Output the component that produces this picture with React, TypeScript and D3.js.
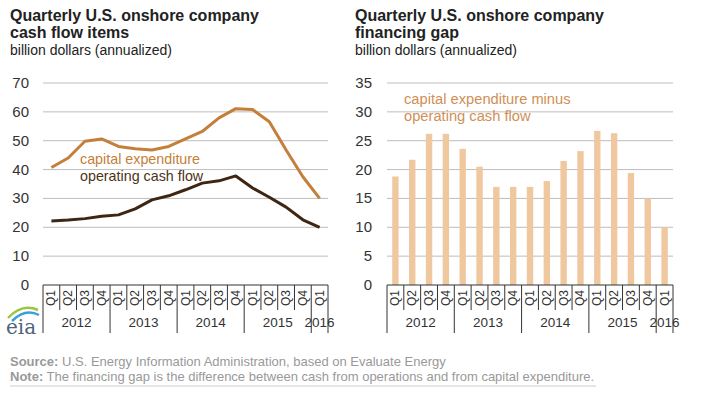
import React, { useEffect, useRef } from "react";
import * as d3 from "d3";

const quarters = ["Q1", "Q2", "Q3", "Q4", "Q1", "Q2", "Q3", "Q4", "Q1", "Q2", "Q3", "Q4", "Q1", "Q2", "Q3", "Q4", "Q1"];
const years = ["2012", "2013", "2014", "2015", "2016"];
const capex = [40.7, 44, 49.8, 50.6, 48, 47.2, 46.8, 48, 50.6, 53.2, 57.9, 61.1, 60.8, 56.6, 46.8, 37.5, 30];
const opCashFlow = [22.2, 22.5, 23, 23.8, 24.3, 26.4, 29.5, 30.9, 33, 35.3, 36.1, 37.8, 33.6, 30.4, 27, 22.6, 20];
const gap = [18.8, 21.7, 26.2, 26.2, 23.6, 20.5, 17, 17, 17, 18, 21.5, 23.2, 26.7, 26.3, 19.4, 15, 10];
const leftTicks = [0, 10, 20, 30, 40, 50, 60, 70];
const rightTicks = [0, 5, 10, 15, 20, 25, 30, 35];

const FONT = "'Liberation Sans', Arial, sans-serif";
const CAPEX_COLOR = "#c47f3a";
const OPCF_COLOR = "#3f2612";
const BAR_COLOR = "#f0c8a0";

export default function App() {
  const ref = useRef<HTMLDivElement | null>(null);

  useEffect(() => {
    const container = ref.current;
    if (!container) return;
    container.innerHTML = "";

    const svg = d3
      .select(container)
      .append("svg")
      .attr("width", 720)
      .attr("height", 393)
      .style("font-family", FONT)
      .style("display", "block");

    const idx = quarters.map((_, i) => String(i));

    const drawPanel = (x0: number, x1: number, maxY: number, ticks: number[], labelRight: number) => {
      const x = d3.scaleBand().domain(idx).range([x0, x1]);
      const y = d3.scaleLinear().domain([0, maxY]).range([285, 83]);
      const g = svg.append("g");

      g.selectAll("line.grid")
        .data(ticks.filter((t) => t > 0))
        .enter()
        .append("line")
        .attr("x1", x0)
        .attr("x2", x1)
        .attr("y1", (d) => y(d))
        .attr("y2", (d) => y(d))
        .attr("stroke", "#bdbdbd")
        .attr("stroke-width", 1);

      g.selectAll("text.ytick")
        .data(ticks)
        .enter()
        .append("text")
        .attr("x", labelRight)
        .attr("y", (d) => y(d) + 5)
        .attr("text-anchor", "end")
        .attr("font-size", 15)
        .attr("fill", "#333")
        .text((d) => d);

      return { x, y, g };
    };

    const drawAxis = (g: any, x: d3.ScaleBand<string>, y: d3.ScaleLinear<number, number>) => {
      const [x0, x1] = x.range();
      const bw = x.bandwidth();
      g.append("line")
        .attr("x1", x0)
        .attr("x2", x1)
        .attr("y1", y(0))
        .attr("y2", y(0))
        .attr("stroke", "#333");
      const bounds = d3.range(quarters.length + 1);
      g.selectAll("line.qtick")
        .data(bounds)
        .enter()
        .append("line")
        .attr("x1", (d: number) => x0 + d * bw)
        .attr("x2", (d: number) => x0 + d * bw)
        .attr("y1", y(0))
        .attr("y2", (d: number) => (d % 4 === 0 || d === quarters.length ? 333 : 310))
        .attr("stroke", "#333");
      g.selectAll("text.q")
        .data(quarters)
        .enter()
        .append("text")
        .attr("transform", (_: string, i: number) => `translate(${x(String(i))! + bw / 2 + 4},298) rotate(-90)`)
        .attr("text-anchor", "middle")
        .attr("font-size", 12)
        .attr("fill", "#333")
        .text((d: string) => d);
      g.selectAll("text.yr")
        .data(years)
        .enter()
        .append("text")
        .attr("x", (_: string, i: number) => (i < 4 ? x0 + (i * 4 + 2) * bw : x0 + 16.5 * bw))
        .attr("y", 327)
        .attr("text-anchor", "middle")
        .attr("font-size", 13.5)
        .attr("fill", "#333")
        .text((d: string) => d);
    };

    // left panel
    const L = drawPanel(43, 328, 70, leftTicks, 29);
    const line = d3
      .line<number>()
      .x((_, i) => L.x(String(i))! + L.x.bandwidth() / 2)
      .y((d) => L.y(d))
      .curve(d3.curveLinear);
    L.g.append("path").attr("d", line(capex)).attr("fill", "none").attr("stroke", CAPEX_COLOR).attr("stroke-width", 3).attr("stroke-linejoin", "round");
    L.g.append("path").attr("d", line(opCashFlow)).attr("fill", "none").attr("stroke", OPCF_COLOR).attr("stroke-width", 3).attr("stroke-linejoin", "round");
    drawAxis(L.g, L.x, L.y);
    L.g.append("text").attr("x", 80).attr("y", 164).attr("font-size", 14.3).attr("fill", CAPEX_COLOR).text("capital expenditure");
    L.g.append("text").attr("x", 80).attr("y", 181).attr("font-size", 14.3).attr("fill", "#4d3219").text("operating cash flow");

    // right panel
    const R = drawPanel(387, 673, 35, rightTicks, 372);
    const bw = R.x.bandwidth() * 0.38;
    R.g.selectAll("rect")
      .data(gap)
      .enter()
      .append("rect")
      .attr("x", (_, i) => R.x(String(i))! + R.x.bandwidth() / 2 - bw / 2)
      .attr("y", (d) => R.y(d))
      .attr("width", bw)
      .attr("height", (d) => R.y(0) - R.y(d))
      .attr("fill", BAR_COLOR);
    drawAxis(R.g, R.x, R.y);
    R.g.append("text").attr("x", 404).attr("y", 104).attr("font-size", 14.7).attr("fill", "#d08f55").text("capital expenditure minus");
    R.g.append("text").attr("x", 404).attr("y", 121).attr("font-size", 14.7).attr("fill", "#d08f55").text("operating cash flow");

    // titles
    const titles = [
      { x: 10, lines: ["Quarterly U.S. onshore company", "cash flow items"] },
      { x: 355, lines: ["Quarterly U.S. onshore company", "financing gap"] },
    ];
    titles.forEach((t) => {
      t.lines.forEach((l, i) => {
        svg.append("text").attr("x", t.x).attr("y", 21 + i * 17).attr("font-size", 16).attr("font-weight", "bold").attr("fill", "#222").text(l);
      });
      svg.append("text").attr("x", t.x).attr("y", 55).attr("font-size", 14).attr("fill", "#222").text("billion dollars (annualized)");
    });

    // eia logo
    const logo = svg.append("g");
    logo.append("path").attr("d", "M8,318 Q22,303 38,310").attr("fill", "none").attr("stroke", "#9bc53d").attr("stroke-width", 2.5);
    logo.append("path").attr("d", "M12,321 Q25,308 39,315").attr("fill", "none").attr("stroke", "#3aa0d8").attr("stroke-width", 2.5);
    logo.append("text").attr("x", 6).attr("y", 334).attr("font-family", "'DejaVu Serif', serif").attr("font-size", 20).attr("fill", "#4f6478").text("eia");

    // footer
    const src = svg.append("text").attr("x", 10).attr("y", 366).attr("font-size", 13).attr("fill", "#999");
    src.append("tspan").attr("font-weight", "bold").text("Source:");
    src.append("tspan").text(" U.S. Energy Information Administration, based on Evaluate Energy");
    const note = svg.append("text").attr("x", 10).attr("y", 381).attr("font-size", 13).attr("fill", "#999");
    note.append("tspan").attr("font-weight", "bold").text("Note:");
    note.append("tspan").text(" The financing gap is the difference between cash from operations and from capital expenditure.");
    svg.append("line").attr("x1", 10).attr("x2", 596).attr("y1", 386).attr("y2", 386).attr("stroke", "#ccc");

    return () => {
      d3.select(container).selectAll("*").remove();
    };
  }, []);

  return <div ref={ref} style={{ position: "absolute", left: 0, top: 0 }} />;
}
